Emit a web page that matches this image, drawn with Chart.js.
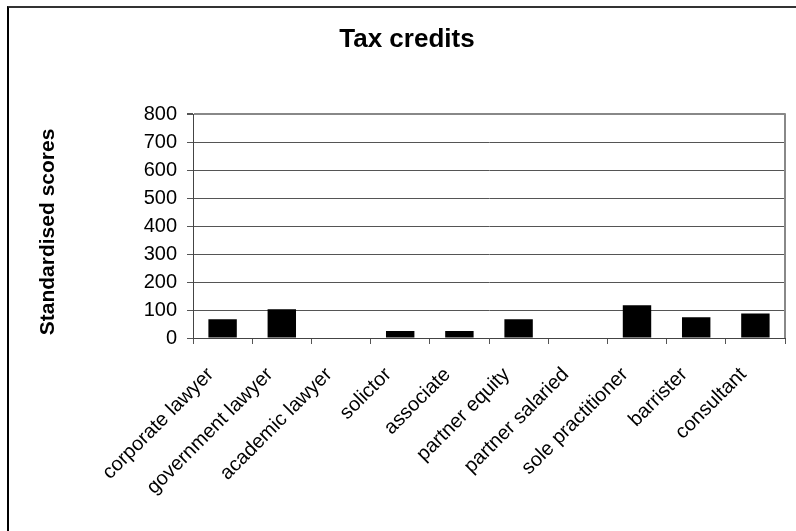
<!DOCTYPE html>
<html lang="en">
<head>
  <meta charset="UTF-8">
  <title>Tax credits</title>
  <script src="https://cdn.jsdelivr.net/npm/chart.js"></script>
  <style>
    body {
      margin: 0;
      background: white;
    }
    .wrap {
      position: relative;
      width: 796px;
      height: 531px;
    }
    .frame {
      position: absolute;
      left: 7px;
      top: 6px;
      width: 800px;
      height: 540px;
      border-left: 2px solid #000;
      border-top: 2px solid #333;
      pointer-events: none;
    }
  </style>
</head>
<body>
  <div class="wrap">
    <canvas id="chart" width="796" height="531"></canvas>
    <div class="frame"></div>
  </div>

  <script>
    const categories = ["corporate lawyer", "government lawyer", "academic lawyer", "solictor", "associate",
      "partner equity", "partner salaried", "sole practitioner", "barrister", "consultant"];
    const scores = [67, 103, 0, 25, 25, 67, 0, 117, 74, 88];
    const yTicks = [0, 100, 200, 300, 400, 500, 600, 700, 800];

    const font = "Arial, 'Liberation Sans', Helvetica, sans-serif";

    // grey edge on the right side of the plot area
    const plotEdge = {
      id: "plotEdge",
      afterDatasetsDraw(chart) {
        const { ctx, chartArea } = chart;
        ctx.save();
        ctx.strokeStyle = "#888";
        ctx.lineWidth = 2;
        ctx.beginPath();
        ctx.moveTo(chartArea.right, chartArea.top - 1);
        ctx.lineTo(chartArea.right, chartArea.bottom);
        ctx.stroke();
        ctx.restore();
      }
    };

    new Chart(document.getElementById("chart"), {
      type: "bar",
      data: {
        labels: categories,
        datasets: [{
          data: scores,
          backgroundColor: "#000",
          barPercentage: 0.48,
          categoryPercentage: 1
        }]
      },
      options: {
        responsive: false,
        animation: false,
        layout: { padding: { left: 0, right: 11, top: 0, bottom: 0 } },
        plugins: {
          legend: { display: false },
          tooltip: { enabled: false },
          title: {
            display: true,
            text: "\u00a0\u00a0\u00a0\u00a0Tax credits",
            color: "#000",
            font: { family: font, size: 26, weight: "bold" },
            padding: { top: 24, bottom: 59 }
          }
        },
        scales: {
          x: {
            afterFit: s => { s.height = 193; },
            grid: {
              offset: true,
              drawOnChartArea: false,
              tickColor: "#555",
              tickLength: 6
            },
            border: { color: "#444", width: 1 },
            ticks: {
              color: "#000",
              font: { family: font, size: 20 },
              minRotation: 45,
              maxRotation: 45,
              padding: 19,
              labelOffset: -12,
              autoSkip: false
            }
          },
          y: {
            min: 0,
            max: 800,
            afterFit: s => { s.width = 193; },
            afterBuildTicks: s => { s.ticks = yTicks.map(v => ({ value: v })); },
            grid: {
              color: c => c.index === yTicks.length - 1 ? "#888" : "#555",
              lineWidth: c => c.index === yTicks.length - 1 ? 2 : 1,
              tickColor: "#555",
              tickLength: 6
            },
            border: { color: "#444", width: 1 },
            ticks: {
              color: "#000",
              font: { family: font, size: 20 },
              padding: 10
            },
            title: {
              display: true,
              text: "Standardised scores\u00a0\u00a0",
              color: "#000",
              font: { family: font, size: 21, weight: "bold" },
              padding: { top: 36, bottom: 0 }
            }
          }
        }
      },
      plugins: [plotEdge]
    });
  </script>
</body>
</html>
